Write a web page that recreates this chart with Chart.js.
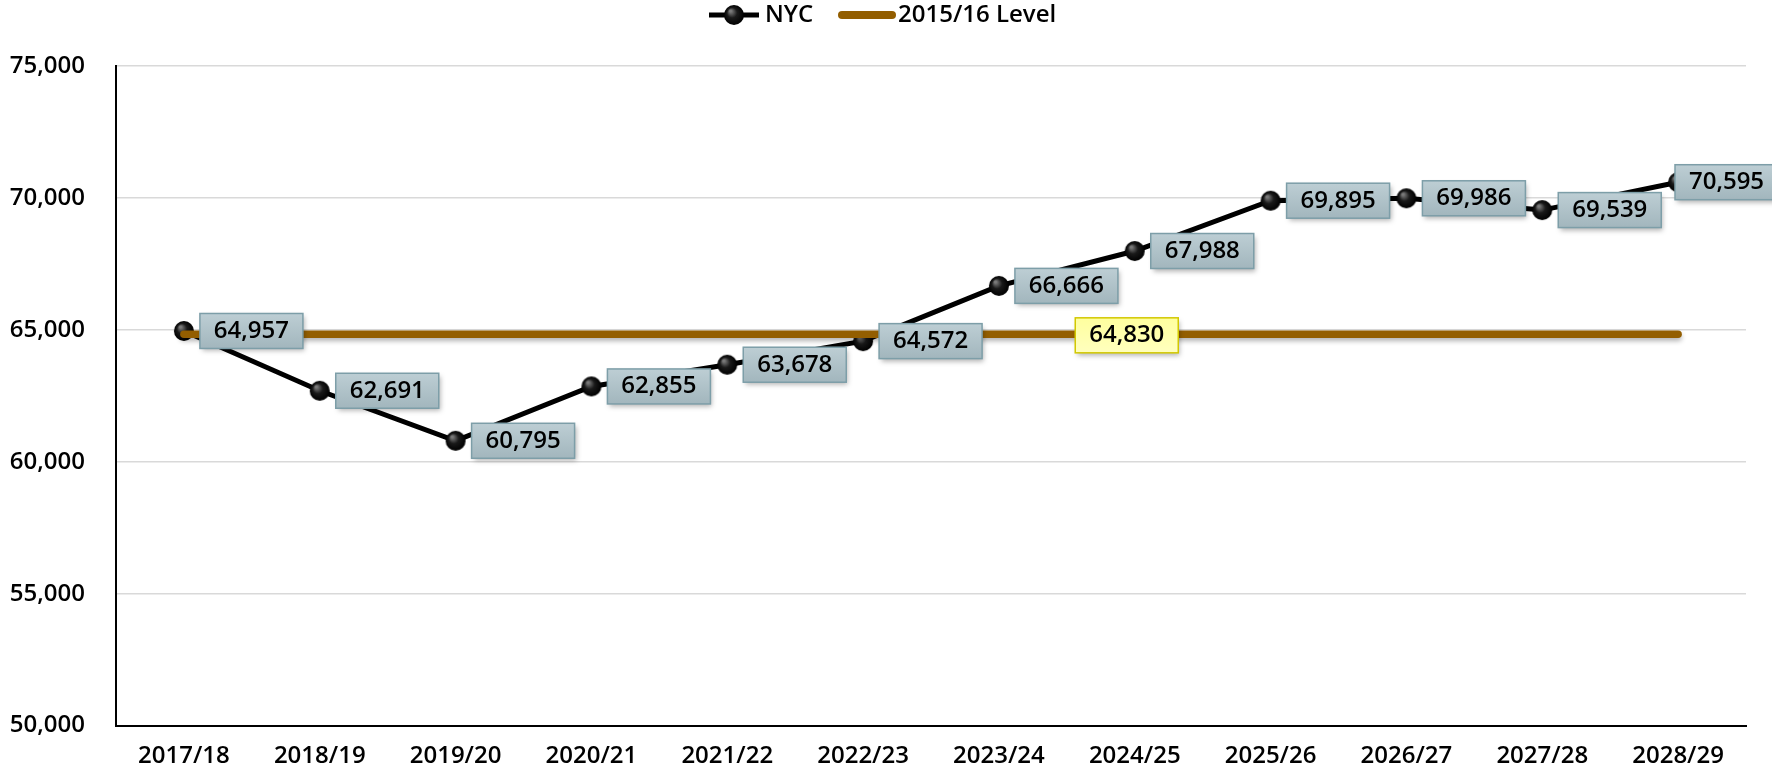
<!DOCTYPE html>
<html>
<head>
<meta charset="utf-8">
<script src="https://cdn.jsdelivr.net/npm/chart.js@4.4.1/dist/chart.umd.min.js"></script>
<style>
html, body { margin: 0; padding: 0; background: #fff; }
#wrap { width: 1772px; height: 771px; }
</style>
</head>
<body>
<div id="wrap"><canvas id="myChart"></canvas></div>
<script>
var years = ['2017/18', '2018/19', '2019/20', '2020/21', '2021/22', '2022/23',
             '2023/24', '2024/25', '2025/26', '2026/27', '2027/28', '2028/29'];
var nycValues = [64957, 62691, 60795, 62855, 63678, 64572, 66666, 67988, 69895, 69986, 69539, 70595];
var levelValues = [64830, 64830, 64830, 64830, 64830, 64830, 64830, 64830, 64830, 64830, 64830, 64830];
var levelLabelIndex = 7;
var yTicks = [50000, 55000, 60000, 65000, 70000, 75000];

var FONT = "'Open Sans', sans-serif";
var WEIGHT = '600';
var SIZE = 24;
var BROWN = '#935e00';

// shiny black ball used as the point marker
function makeBall(r) {
    var c = document.createElement('canvas');
    c.width = r * 2 + 2;
    c.height = r * 2 + 2;
    var g = c.getContext('2d');
    var grad = g.createRadialGradient(r * 0.75, r * 0.7, 1, r + 1, r + 1, r);
    grad.addColorStop(0, '#7a7a7a');
    grad.addColorStop(0.45, '#1a1a1a');
    grad.addColorStop(1, '#000');
    g.fillStyle = grad;
    g.beginPath();
    g.arc(r + 1, r + 1, r, 0, Math.PI * 2);
    g.fill();
    return c;
}
var ball = makeBall(10);

function fmt(v) {
    return v.toLocaleString('en-US');
}

function drawBox(ctx, x, y, w, h, top, bottom, border) {
    ctx.save();
    ctx.shadowColor = 'rgba(0,0,0,0.3)';
    ctx.shadowBlur = 5;
    ctx.shadowOffsetX = 2;
    ctx.shadowOffsetY = 3;
    var grad = ctx.createLinearGradient(0, y, 0, y + h);
    grad.addColorStop(0, top);
    grad.addColorStop(1, bottom);
    ctx.fillStyle = grad;
    ctx.fillRect(x, y, w, h);
    ctx.restore();
    ctx.strokeStyle = border;
    ctx.lineWidth = 1.5;
    ctx.strokeRect(x, y, w, h);
}

var labelPlugin = {
    id: 'valueLabels',
    afterDatasetsDraw: function(chart) {
        var ctx = chart.ctx;
        ctx.save();
        ctx.font = WEIGHT + ' ' + SIZE + 'px ' + FONT;
        ctx.textBaseline = 'middle';
        ctx.textAlign = 'center';

        var meta = chart.getDatasetMeta(0);
        meta.data.forEach(function(pt, i) {
            var txt = fmt(nycValues[i]);
            var w = 103;
            var h = 35;
            // keep the last box mostly on the canvas, like the original
            var x = Math.min(pt.x + 16, chart.width + 6 - w);
            var y = pt.y - h / 2;
            drawBox(ctx, x, y, w, h, '#bdced4', '#a2b6bd', '#7d9ea8');
            ctx.fillStyle = '#000';
            ctx.fillText(txt, x + w / 2, pt.y);
        });

        var lmeta = chart.getDatasetMeta(1);
        var lp = lmeta.data[levelLabelIndex];
        var ltxt = fmt(levelValues[levelLabelIndex]);
        var lw = 103;
        var lh = 35;
        drawBox(ctx, lp.x - lw / 2 - 8, lp.y - lh / 2 + 1, lw, lh, '#ffff9e', '#ffffbe', '#d2c800');
        ctx.fillStyle = '#000';
        ctx.fillText(ltxt, lp.x - 8, lp.y + 1);
        ctx.restore();
    }
};

var shadowPlugin = {
    id: 'levelShadow',
    beforeDatasetDraw: function(chart, args) {
        if (args.index === 1) {
            var ctx = chart.ctx;
            ctx.save();
            ctx.shadowColor = 'rgba(0,0,0,0.3)';
            ctx.shadowBlur = 5;
            ctx.shadowOffsetY = 3;
        }
    },
    afterDatasetDraw: function(chart, args) {
        if (args.index === 1) {
            chart.ctx.restore();
        }
    }
};

var legendPlugin = {
    id: 'customLegend',
    afterDraw: function(chart) {
        var ctx = chart.ctx;
        var y = 15;
        ctx.save();
        ctx.font = WEIGHT + ' ' + SIZE + 'px ' + FONT;
        ctx.textBaseline = 'middle';
        ctx.fillStyle = '#000';

        // NYC
        ctx.strokeStyle = '#000';
        ctx.lineWidth = 5;
        ctx.beginPath();
        ctx.moveTo(709, y);
        ctx.lineTo(759, y);
        ctx.stroke();
        ctx.drawImage(ball, 734 - 11, y - 11);
        ctx.fillText(chart.data.datasets[0].label, 765, y);

        // 2015/16 Level
        ctx.strokeStyle = BROWN;
        ctx.lineWidth = 8;
        ctx.lineCap = 'round';
        ctx.beginPath();
        ctx.moveTo(842, y);
        ctx.lineTo(892, y);
        ctx.stroke();
        ctx.fillText(chart.data.datasets[1].label, 898, y);
        ctx.restore();
    }
};

const ctx = document.getElementById('myChart').getContext('2d');

const myChart = new Chart(ctx, {
    type: 'line',
    data: {
        labels: years,
        datasets: [{
            label: 'NYC',
            data: nycValues,
            borderColor: '#000',
            borderWidth: 5,
            pointStyle: ball,
            pointRadius: 10,
            order: 1
        }, {
            label: '2015/16 Level',
            data: levelValues,
            borderColor: BROWN,
            borderWidth: 7.5,
            borderCapStyle: 'round',
            pointRadius: 0,
            order: 0
        }]
    },
    options: {
        responsive: true,
        maintainAspectRatio: false,
        animation: false,
        layout: {
            padding: { top: 66, right: 26, left: 0, bottom: 0 }
        },
        plugins: {
            legend: { display: false },
            tooltip: { enabled: false }
        },
        scales: {
            x: {
                offset: true,
                grid: { display: false, drawTicks: false },
                border: { color: '#000', width: 2 },
                ticks: {
                    color: '#000',
                    padding: 16,
                    font: { size: SIZE, weight: WEIGHT, family: FONT }
                },
                afterFit: function(s) { s.height = 43; }
            },
            y: {
                min: 50000,
                max: 75000,
                afterBuildTicks: function(s) {
                    s.ticks = yTicks.map(function(v) { return { value: v }; });
                },
                grid: { color: '#d9d9d9', lineWidth: 1.5, drawTicks: false },
                border: { color: '#000', width: 2 },
                ticks: {
                    color: '#000',
                    padding: 31,
                    font: { size: SIZE, weight: WEIGHT, family: FONT },
                    callback: function(v) { return fmt(v); }
                },
                afterFit: function(s) { s.width = 116; }
            }
        }
    },
    plugins: [shadowPlugin, labelPlugin, legendPlugin]
});
</script>
</body>
</html>
